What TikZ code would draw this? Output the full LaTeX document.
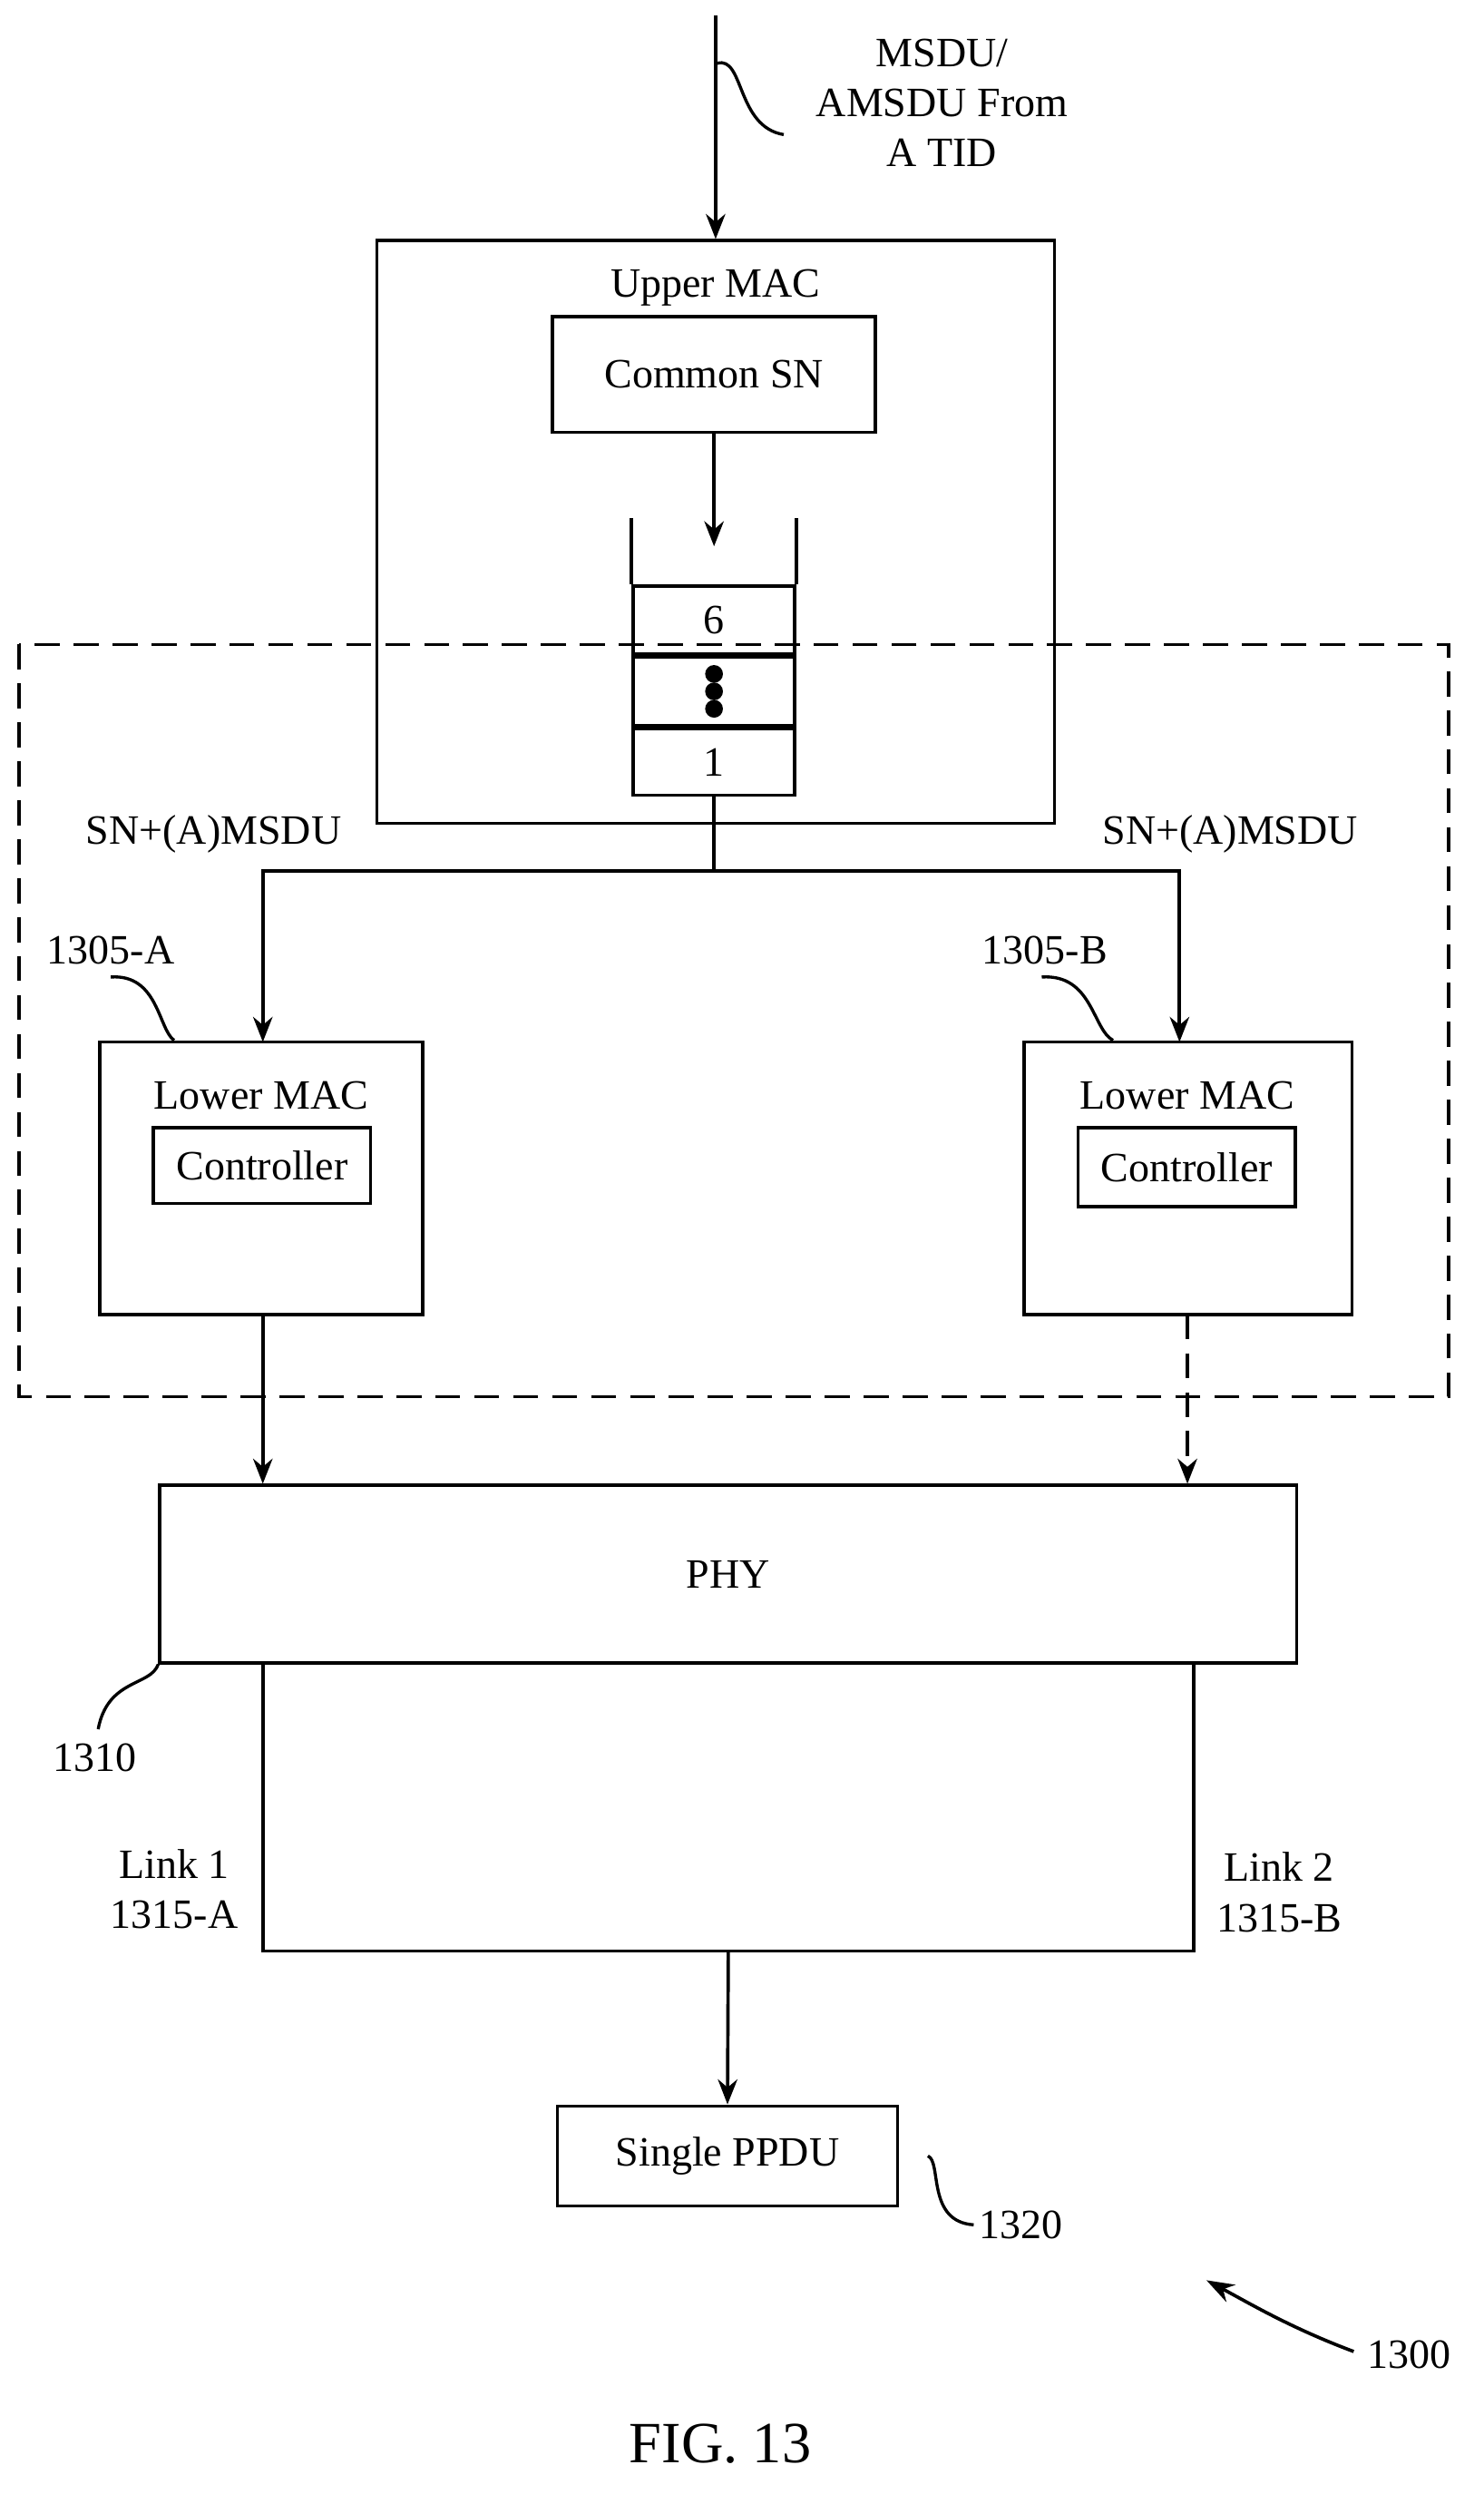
\documentclass[tikz,border=0pt]{standalone}
\usepackage{fontspec}
\setmainfont{Liberation Serif}
\usetikzlibrary{positioning,arrows.meta}
\tikzset{
    box/.style={draw, line width=1.2pt, inner sep=0pt},
    lbl/.style={font=\fontsize{15}{18}\selectfont, align=center},
    arr/.style={-{Stealth[length=9pt,width=7pt]}, line width=1.2pt},
    wave/.style={line width=1.1pt},
}
\begin{document}
\begin{tikzpicture}[x=0.02cm, y=-0.02cm, line width=1.2pt]
    \useasboundingbox (0,0) rectangle (937,1575);

    % input
    \coordinate (in) at (452,10);
    \node[box, minimum width=428*0.02cm, minimum height=368*0.02cm] (upper) at (452,336) {};
    \draw[arr] (in) -- (upper.north);
    \node[lbl] (msdu) at (595,65) {MSDU/\\AMSDU From\\A TID};
    \draw[wave] (453,40) .. controls (470,35) and (465,80) .. (495,85);

    \node[lbl] (uplbl) at (452,182) {Upper MAC};
    \node[box, lbl, minimum width=204*0.02cm, minimum height=73*0.02cm] (csn) at (451,236.5) {Common SN};

    % queue
    \node[box, lbl, minimum width=102*0.02cm, minimum height=43*0.02cm] (q6) at (451,391.5) {6};
    \node[box, minimum width=102*0.02cm, minimum height=43*0.02cm, below=0pt of q6] (qd) {};
    \node[box, lbl, minimum width=102*0.02cm, minimum height=42*0.02cm, below=0pt of qd] (q1) {1};
    \draw (q6.north west) -- ++(0,-42);
    \draw (q6.north east) -- ++(0,-42);
    \foreach \d in {-11,0,11} \fill (qd.center) ++(0,\d) circle (3.2pt);
    \draw[arr] (csn.south) -- (451,345);

    % dashed region
    \draw[dashed, line width=1.2pt, dash pattern=on 9pt off 5pt] (12,407) rectangle (915,882);

    \node[lbl] (snA) at (135,527) {SN+(A)MSDU};
    \node[lbl] (snB) at (777,527) {SN+(A)MSDU};

    \node[box, minimum width=204*0.02cm, minimum height=172*0.02cm] (lowA) at (165,744) {};
    \node[box, minimum width=207*0.02cm, minimum height=172*0.02cm] (lowB) at (750.5,744) {};
    \node[lbl] at (165,692) {Lower MAC};
    \node[lbl] at (750,692) {Lower MAC};
    \node[box, lbl, minimum width=137*0.02cm, minimum height=48*0.02cm] (ctlA) at (165.5,736) {Controller};
    \node[box, lbl, minimum width=137*0.02cm, minimum height=50*0.02cm] (ctlB) at (749.5,737) {Controller};

    \coordinate (split) at (451,550);
    \coordinate (tA) at (166,658);
    \coordinate (tB) at (745,658);
    \draw (q1.south) -- (split);
    \draw[arr] (split) -| (tA);
    \draw[arr] (split) -| (tB);

    \node[lbl] (rA) at (70,600) {1305-A};
    \node[lbl] (rB) at (660,600) {1305-B};
    \draw[wave] (70,617) .. controls (100,615) and (100,650) .. (110,657);
    \draw[wave] (658,617) .. controls (690,615) and (690,650) .. (703,657);

    % PHY
    \node[box, lbl, minimum width=718*0.02cm, minimum height=112*0.02cm] (phy) at (460,994) {PHY};
    \coordinate (bA) at (166,830);
    \coordinate (bB) at (750,830);
    \draw[arr] (bA) -- (166,937);
    \draw[arr, dash pattern=on 9pt off 5pt] (bB) -- (750,937);

    \node[lbl] (r1310) at (60,1110) {1310};
    \draw[wave] (62,1092) .. controls (68,1060) and (95,1065) .. (phy.south west);

    % links
    \coordinate (la) at (166,1232);
    \coordinate (lb) at (754,1232);
    \draw (166,1050) -- (la) -- (lb) -- (754,1050);
    \node[lbl] (l1) at (110,1193) {Link 1\\1315-A};
    \node[lbl] (l2) at (808,1195) {Link 2\\1315-B};

    % output
    \node[box, lbl, minimum width=215*0.02cm, minimum height=63*0.02cm] (ppdu) at (459.5,1361.5) {Single PPDU};
    \draw[arr] (460,1232) -- (ppdu.north);
    \node[lbl] (r1320) at (645,1405) {1320};
    \draw[wave] (ppdu.east) ++(18,0) .. controls (595,1365) and (585,1403) .. (615,1405);

    \node[lbl] (r1300) at (890,1487) {1300};
    \draw[-{Stealth[length=10pt,width=7pt]}, line width=1.2pt] (855,1485) .. controls (815,1470) and (790,1455) .. (762,1440);

    \node[font=\fontsize{21}{24}\selectfont] (fig) at (455,1543) {FIG. 13};
\end{tikzpicture}
\end{document}
